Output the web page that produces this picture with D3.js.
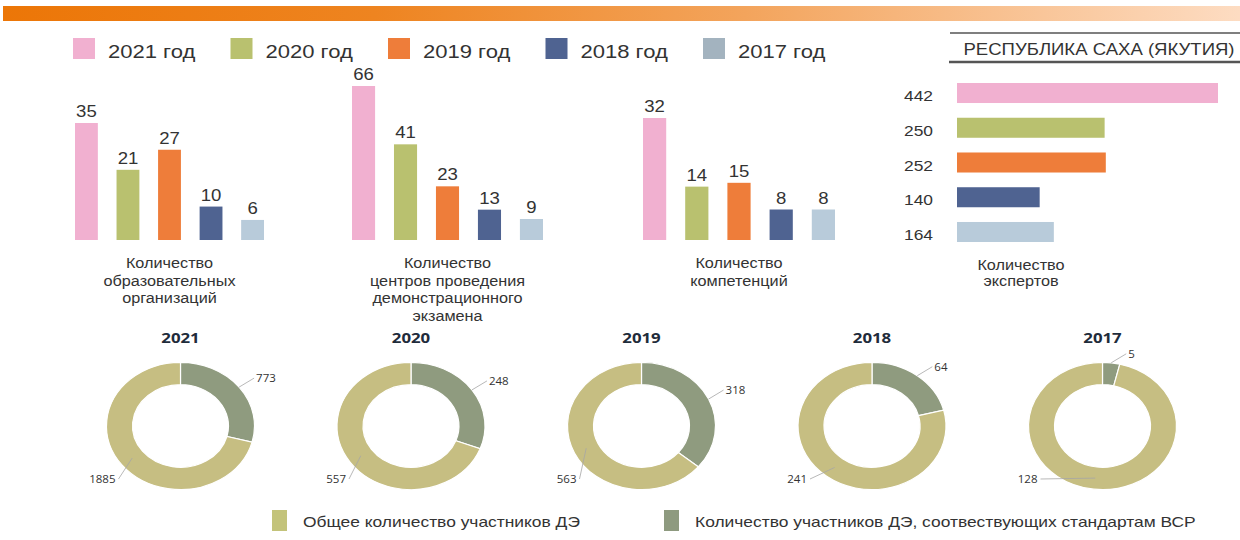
<!DOCTYPE html>
<html><head><meta charset="utf-8">
<script src="https://cdn.jsdelivr.net/npm/d3@7/dist/d3.min.js"></script>
<style>html,body{margin:0;padding:0;background:#fff;}svg{display:block;}</style>
</head><body>
<svg id="chart" width="1240" height="540"></svg>
<script>
// ---------- DATA ----------
const years = ["2021 год", "2020 год", "2019 год", "2018 год", "2017 год"];
const orgCounts = [35, 21, 27, 10, 6];
const centerCounts = [66, 41, 23, 13, 9];
const competenceCounts = [32, 14, 15, 8, 8];
const expertCounts = [442, 250, 252, 140, 164];
const orgLabel = ["Количество", "образовательных", "организаций"];
const centerLabel = ["Количество", "центров проведения", "демонстрационного", "экзамена"];
const competenceLabel = ["Количество", "компетенций"];
const expertLabel = ["Количество", "экспертов"];
const regionTitle = "РЕСПУБЛИКА САХА (ЯКУТИЯ)";
const donutYears = ["2021", "2020", "2019", "2018", "2017"];
const totalParticipants = [1885, 557, 563, 241, 128];
const wsrParticipants = [773, 248, 318, 64, 5];
const participantLegend = ["Общее количество участников ДЭ", "Количество участников ДЭ, соотвествующих стандартам ВСР"];

// ---------- STYLE ----------
const seriesColors = ["#f1b0d0", "#b9c16f", "#ee7d3a", "#4f6391", "#b8cbda"];
const swatchColors = ["#f1b0d0", "#b9c16f", "#ee7d3a", "#4f6391", "#a3b3bf"];
const donutColors = { wsr: "#8f9b7f", total: "#c6be82" };
const donutSwatch = { total: "#c3c37a", wsr: "#8e9a7f" };
const SX = 1.16; // horizontal stretch of the reference picture
const SANS = "'Liberation Sans', Arial, sans-serif";
const OPEN = "'Open Sans', 'Noto Sans', sans-serif";
const TXT = "#333";

const svg = d3.select("#chart");

function stext(parent, x, y, str, o = {}) {
  const g = parent.append("g").attr("transform", `translate(${x},${y}) scale(${o.sx ?? SX},1)`);
  return g.append("text")
    .attr("text-anchor", o.anchor || "start")
    .attr("font-family", o.family || SANS)
    .attr("font-size", o.size || 14)
    .attr("font-weight", o.weight || "normal")
    .attr("fill", o.fill || TXT)
    .text(str);
}

// ---------- TOP GRADIENT BAR ----------
const defs = svg.append("defs");
const grad = defs.append("linearGradient").attr("id", "topbar");
[["0%", "#ec7607"], ["30%", "#ee8420"], ["60%", "#f3a45c"], ["100%", "#fddcc2"]]
  .forEach(([o, c]) => grad.append("stop").attr("offset", o).attr("stop-color", c));
svg.append("rect").attr("x", 3).attr("y", 6).attr("width", 1237).attr("height", 15).attr("fill", "url(#topbar)");

// ---------- LEGEND ----------
{
  const lx = d3.scalePoint().domain(years).range([73, 703]);
  years.forEach((y, i) => {
    const x = lx(y);
    svg.append("rect").attr("x", x).attr("y", 38).attr("width", 22).attr("height", 21).attr("fill", swatchColors[i]);
    stext(svg, x + 35, 58, y, { size: 19 });
  });
}

// ---------- VERTICAL BAR GROUPS ----------
function barGroup(values, x0, x1, topY, labelLines) {
  const base = 240;
  const x = d3.scaleBand().domain(years).range([x0, x1]).paddingInner(0.45).paddingOuter(0);
  const y = d3.scaleLinear().domain([0, d3.max(values)]).range([base, topY]);
  const g = svg.append("g");
  g.selectAll("rect").data(values).join("rect")
    .attr("x", (d, i) => x(years[i]))
    .attr("y", d => y(d))
    .attr("width", x.bandwidth())
    .attr("height", d => base - y(d))
    .attr("fill", (d, i) => seriesColors[i]);
  values.forEach((d, i) => stext(g, x(years[i]) + x.bandwidth() / 2, y(d) - 6, d, { size: 16, anchor: "middle" }));
  const cx = (x0 + x1) / 2;
  labelLines.forEach((l, i) => stext(g, cx, 268 + i * 17.5, l, { size: 14, anchor: "middle" }));
}
barGroup(orgCounts, 75, 264, 123, orgLabel);
barGroup(centerCounts, 352, 543, 86, centerLabel);
barGroup(competenceCounts, 643, 835, 118, competenceLabel);

// ---------- EXPERTS (HORIZONTAL) ----------
{
  svg.append("line").attr("x1", 950).attr("x2", 1240).attr("y1", 33).attr("y2", 33).attr("stroke", "#555").attr("stroke-width", 1.5);
  svg.append("line").attr("x1", 949).attr("x2", 1240).attr("y1", 62).attr("y2", 62).attr("stroke", "#555").attr("stroke-width", 2.5);
  stext(svg, 1099, 55, regionTitle, { size: 16, anchor: "middle" });
  const yb = d3.scaleBand().domain(years).range([83, 242]).paddingInner(0.424).paddingOuter(0);
  const xs = d3.scaleLinear().domain([0, d3.max(expertCounts)]).range([957, 1218]);
  const g = svg.append("g");
  g.selectAll("rect").data(expertCounts).join("rect")
    .attr("x", xs(0))
    .attr("y", (d, i) => yb(years[i]))
    .attr("width", d => xs(d) - xs(0))
    .attr("height", yb.bandwidth())
    .attr("fill", (d, i) => seriesColors[i]);
  expertCounts.forEach((d, i) => stext(g, 933, yb(years[i]) + yb.bandwidth() / 2 + 8, d, { size: 15, anchor: "end" }));
  expertLabel.forEach((l, i) => stext(g, 1021, 270 + i * 16, l, { size: 14, anchor: "middle" }));
}

// ---------- DONUTS ----------
{
  const cxs = d3.scalePoint().domain(donutYears).range([180.5, 1102.5]);
  const cy = 426, R = 74, r = 48, K = 0.86;
  const pie = d3.pie().sort(null).value(d => d.v);
  const arc = d3.arc().innerRadius(r).outerRadius(R);
  donutYears.forEach((yr, i) => {
    const cx = cxs(yr);
    stext(svg, cx, 343, yr, { size: 14.5, anchor: "middle", weight: "bold", family: OPEN, fill: "#1f2c3b" });
    const arcs = pie([{ k: "wsr", v: wsrParticipants[i] }, { k: "total", v: totalParticipants[i] }]);
    const g = svg.append("g").attr("transform", `translate(${cx},${cy}) scale(1,${K})`);
    g.selectAll("path").data(arcs).join("path")
      .attr("d", arc)
      .attr("fill", d => donutColors[d.data.k])
      .attr("stroke", "#fff").attr("stroke-width", 1.2)
      .attr("vector-effect", "non-scaling-stroke");
    // dark (wsr) label
    const a = (arcs[0].startAngle + arcs[0].endAngle) / 2;
    const p0 = [cx + R * Math.sin(a), cy - R * Math.cos(a) * K];
    const p1 = [p0[0] + 15, p0[1] - 9];
    svg.append("line").attr("x1", p0[0]).attr("y1", p0[1]).attr("x2", p1[0]).attr("y2", p1[1])
      .attr("stroke", "#a6a6a6").attr("stroke-width", 0.8);
    stext(svg, p1[0] + 2, p1[1] + 4, wsrParticipants[i], { size: 11.5, family: OPEN, sx: 1 });
    // light (total) label
    const b = (arcs[1].startAngle + arcs[1].endAngle) / 2;
    const rm = (R + r) / 2;
    const q0 = [cx + rm * Math.sin(b), cy - rm * Math.cos(b) * K];
    const lx = cx - 65, ly = cy + 57;
    svg.append("line").attr("x1", lx + 3).attr("y1", ly - 4).attr("x2", q0[0]).attr("y2", q0[1])
      .attr("stroke", "#a6a6a6").attr("stroke-width", 0.8);
    stext(svg, lx, ly, totalParticipants[i], { size: 11.5, family: OPEN, anchor: "end", sx: 1 });
  });
}

// ---------- BOTTOM LEGEND ----------
{
  const xs = [272, 664];
  const keys = ["total", "wsr"];
  participantLegend.forEach((l, i) => {
    svg.append("rect").attr("x", xs[i]).attr("y", 510).attr("width", 15).attr("height", 21).attr("fill", donutSwatch[keys[i]]);
    stext(svg, xs[i] + 31, 527, l, { size: 15 });
  });
}
</script>
</body></html>
